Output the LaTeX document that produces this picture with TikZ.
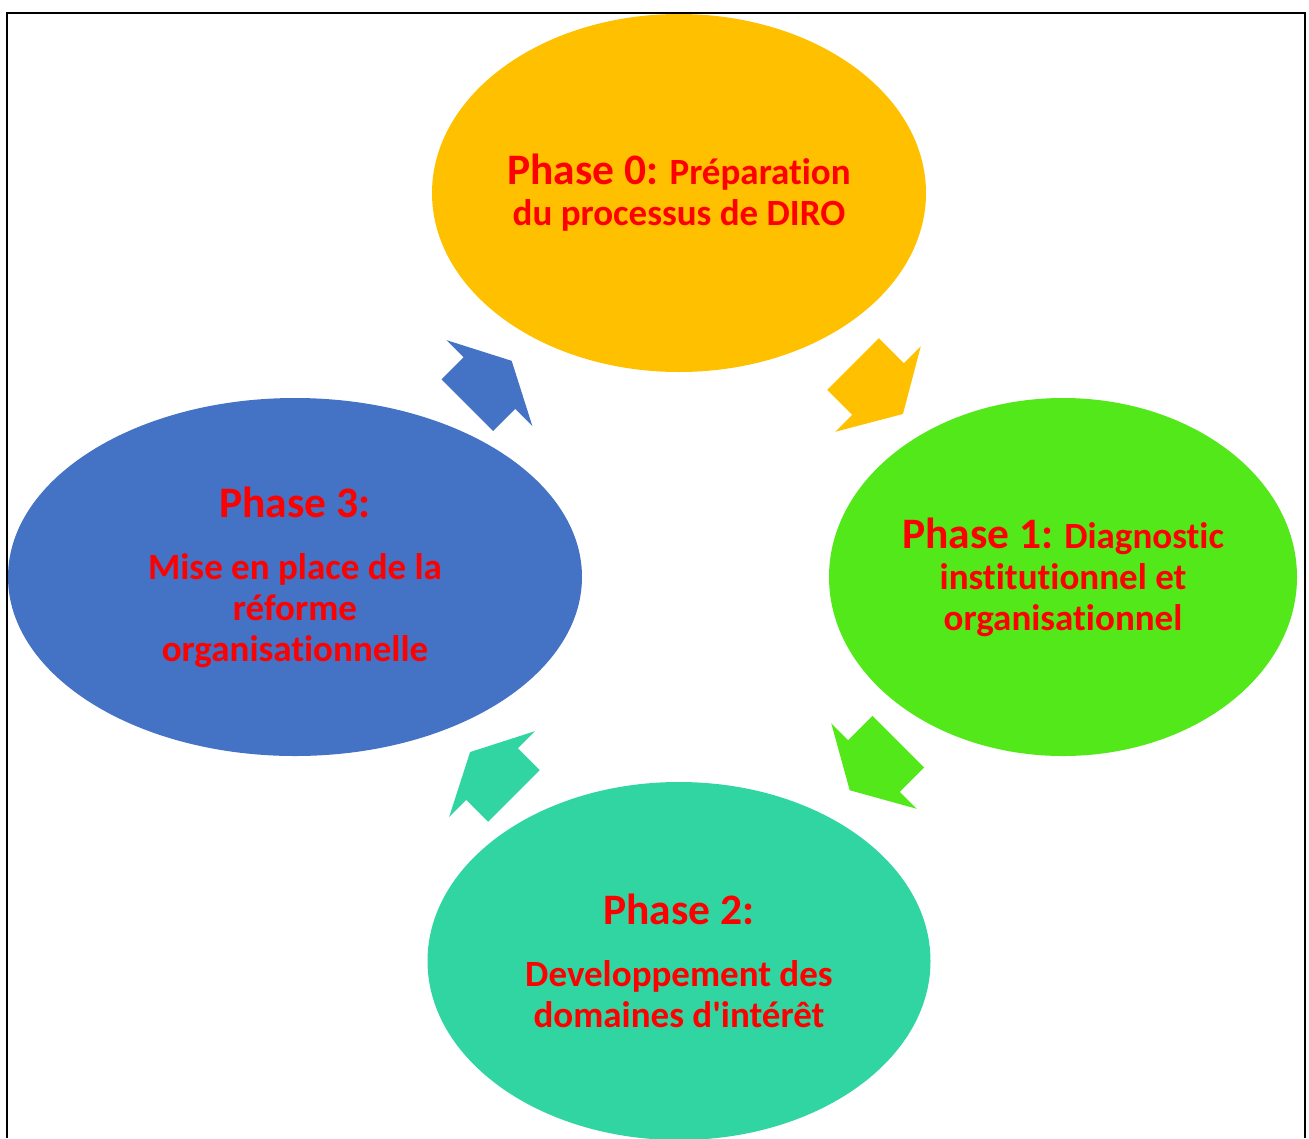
\documentclass[tikz,border=0pt]{standalone}
\usepackage{fontspec}
\setmainfont[Ligatures=NoCommon]{Carlito}
\usepackage{tikz}
\usetikzlibrary{shapes.geometric,calc}
\definecolor{phasezero}{HTML}{FFC000}
\definecolor{phaseone}{HTML}{53E81A}
\definecolor{phasetwo}{HTML}{30D5A2}
\definecolor{phasethree}{HTML}{4472C4}
\newcommand{\phasetitle}[1]{{\fontsize{43.5}{50}\selectfont Phase #1:}}

\begin{document}
\begin{tikzpicture}[x=1pt, y=-1pt, every node/.style={font=\bfseries\fontsize{37}{41}\selectfont, text=red}, phase/.style={ellipse, inner sep=0pt, align=center, minimum height=358pt}, blockarr/.pic={\fill (-33,-36.5) -- (0,-36.5) -- (0,-60.5) -- (33,0) -- (0,60.5) -- (0,36.5) -- (-33,36.5) -- cycle;}]
\useasboundingbox (0,0) rectangle (1309,1138);
\node[phase, fill=phasezero, minimum width=494pt] (p0) at (679,193) {\phasetitle{0} Préparation\\du processus de DIRO};
\node[phase, fill=phaseone, minimum width=468pt] (p1) at (1063,577) {\phasetitle{1} Diagnostic\\institutionnel et\\organisationnel};
\node[phase, fill=phasetwo, minimum width=503pt] (p2) at (679,961) {\phasetitle{2}\\[21pt]Developpement des\\domaines d\textquotesingle intérêt};
\node[phase, fill=phasethree, minimum width=574pt] (p3) at (295,577) {\phasetitle{3}\\[21pt]Mise en place de la\\réforme\\organisationnelle};
\pic[fill=phasezero, rotate=-45, xscale=1.07] at ($(p0)!0.5!(p1)+(7,4)$) {blockarr};
\pic[fill=phaseone, rotate=-135, xscale=1.04] at ($(p1)!0.5!(p2)+(3,-3)$) {blockarr};
\pic[fill=phasetwo, rotate=135, xscale=0.94] at ($(p2)!0.5!(p3)+(5,5)$) {blockarr};
\pic[fill=phasethree, rotate=45, xscale=0.95] at ($(p3)!0.5!(p0)+(2.5,-2)$) {blockarr};
\draw[line width=2pt] (7,1138) -- (7,13) -- (1305,13) -- (1305,1138);
\end{tikzpicture}
\end{document}
